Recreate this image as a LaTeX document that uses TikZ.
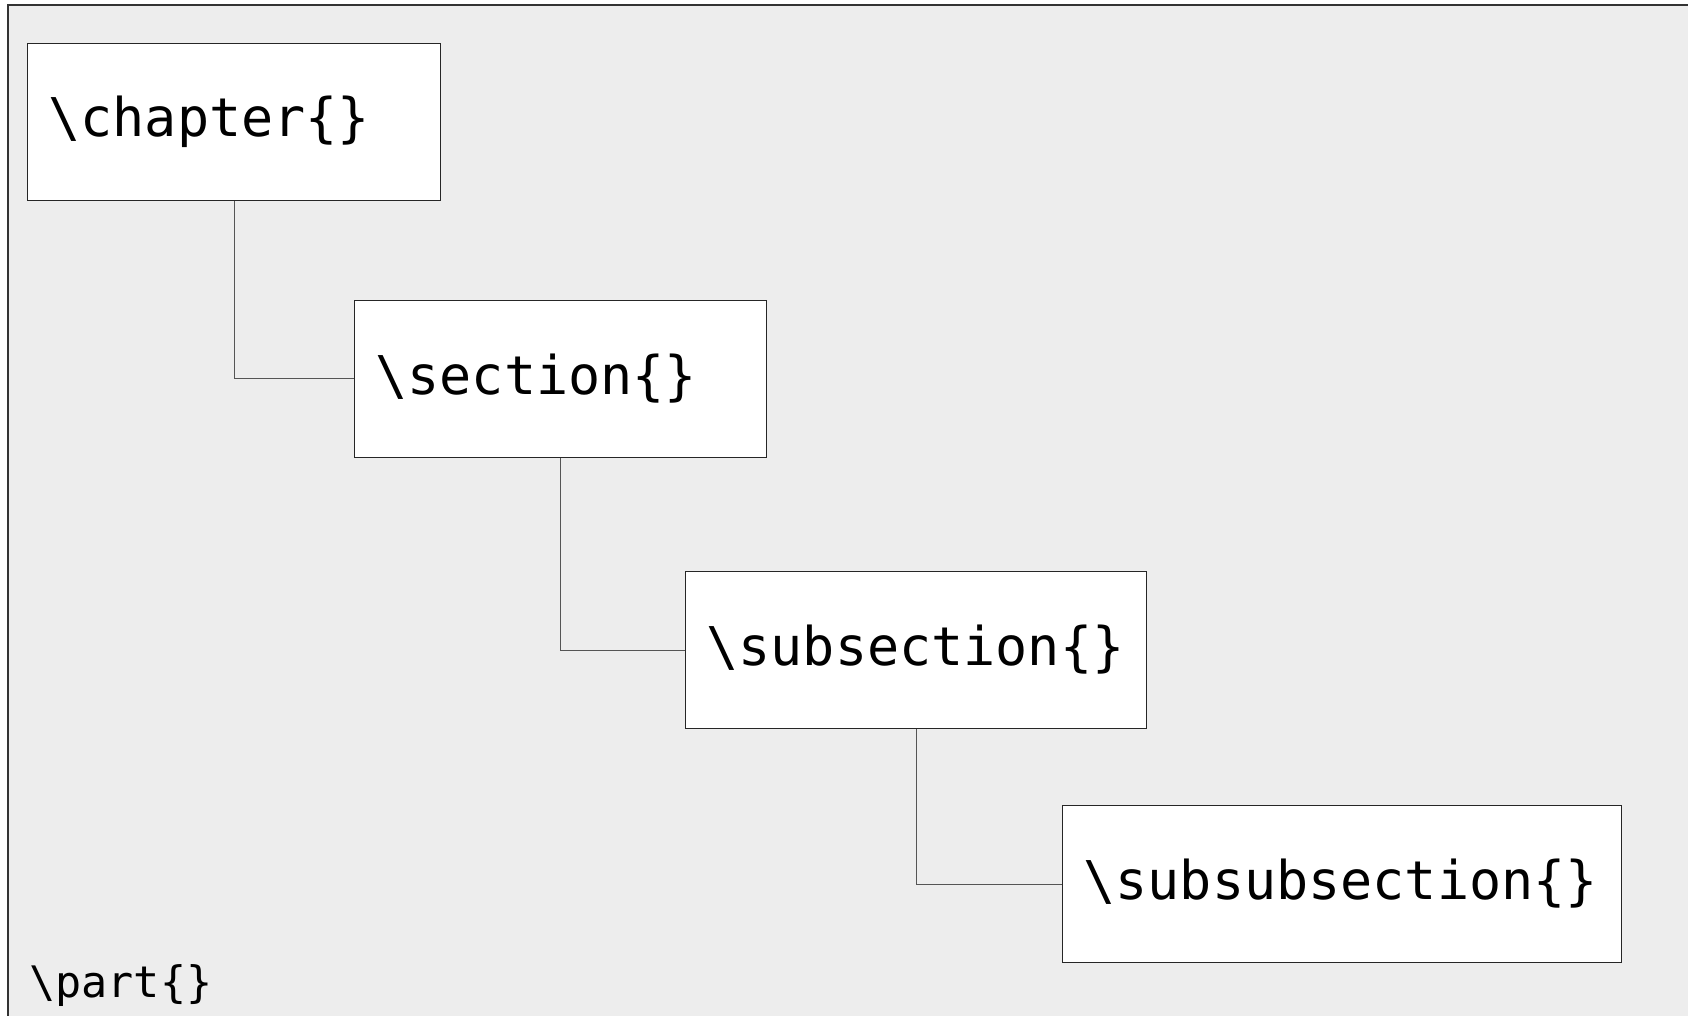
\documentclass[tikz,border=0pt]{standalone}
\usepackage{fontspec}
\usepackage{tikz}
\usetikzlibrary{positioning}
\newfontfamily\codefont{DejaVu Sans Mono}
\definecolor{pagegray}{HTML}{EDEDED}
\definecolor{framegray}{HTML}{333333}
\definecolor{linkgray}{HTML}{555555}

\begin{document}
\begin{tikzpicture}[
  x=0.5pt, y=-0.5pt,
  level/.style={rectangle, draw=black!85, fill=white, line width=0.5pt, anchor=north west, align=left, inner xsep=10.5pt, inner ysep=0pt, minimum height=78.5pt, font=\codefont\fontsize{26.7pt}{30pt}\selectfont},
  link/.style={draw=linkgray, line width=0.5pt}
]
\useasboundingbox (0,0) rectangle (1688,1016);
\fill[white] (0,0) rectangle (1688,1016);
\draw[framegray, fill=pagegray, line width=0.7pt] (8,1030) -- (8,5) -- (1700,5) -- (1700,1030);
\node[level, text width=185.5pt] (chapter) at (27,43) {\textbackslash chapter\{\}};
\node[level, text width=185pt] (section) at (354,300) {\textbackslash section\{\}};
\node[level, text width=209.5pt] (subsection) at (685,571) {\textbackslash subsection\{\}};
\node[level, text width=258.5pt] (subsubsection) at (1062,805) {\textbackslash subsubsection\{\}};
\node[anchor=base west, inner sep=0pt, font=\codefont\fontsize{21.7pt}{26pt}\selectfont] (part) at (29,997) {\textbackslash part\{\}};
\draw[link] (chapter.south) |- (section.west);
\draw[link] (section.south) |- (subsection.west);
\draw[link] (subsection.south) |- (subsubsection.west);
\end{tikzpicture}
\end{document}
